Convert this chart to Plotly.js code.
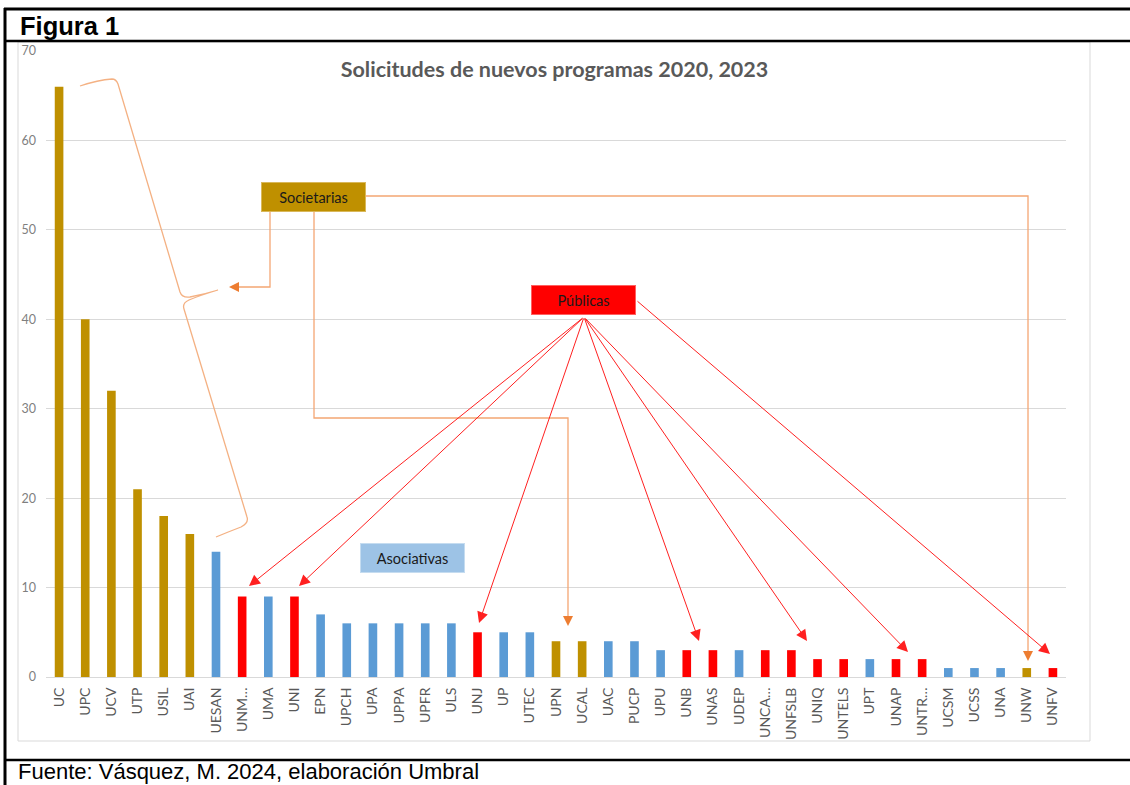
<!DOCTYPE html>
<html>
<head>
<meta charset="utf-8">
<script src="https://cdn.plot.ly/plotly-3.0.1.min.js"></script>
<style>
html,body{margin:0;padding:0;background:#fff;}
#chart{width:1130px;height:785px;}
</style>
</head>
<body>
<div id="chart"></div>
<script>
// ---- Data ----
const categorias = ["UC","UPC","UCV","UTP","USIL","UAI","UESAN","UNM…","UMA","UNI","EPN","UPCH","UPA","UPPA","UPFR","ULS","UNJ","UP","UTEC","UPN","UCAL","UAC","PUCP","UPU","UNB","UNAS","UDEP","UNCA…","UNFSLB","UNIQ","UNTELS","UPT","UNAP","UNTR…","UCSM","UCSS","UNA","UNW","UNFV"];
const valores = [66,40,32,21,18,16,14,9,9,9,7,6,6,6,6,6,5,5,5,4,4,4,4,3,3,3,3,3,3,2,2,2,2,2,1,1,1,1,1];
const tipo = ["S","S","S","S","S","S","A","P","A","P","A","A","A","A","A","A","P","A","A","S","S","A","A","A","P","P","A","P","P","P","P","A","P","P","A","A","A","S","P"];
const colorTipo = {S:"#BF9000", A:"#5B9BD5", P:"#FF0000"};
const yTicks = [0,10,20,30,40,50,60,70];

// ---- Pixel helpers for decorations ----
const PL=46, PR=1066, PT=51, PB=677;
const xp = px => (px-PL)/(PR-PL);
const yp = py => (PB-py)/(PB-PT);
const P = (px,py) => xp(px).toFixed(5)+","+yp(py).toFixed(5);
const poly = pts => "M" + pts.map(p=>P(p[0],p[1])).join(" L") + " Z";
const line = pts => "M" + pts.map(p=>P(p[0],p[1])).join(" L");

const orangeLine = "#F4A673";
const orangeHead = "#ED7D31";

const shapes = [
  // chart area border
  {type:"rect", xref:"paper", yref:"paper", x0:xp(18), x1:xp(1090), y0:yp(42), y1:yp(741), line:{color:"#d9d9d9", width:1}, layer:"below"},
  // document frame
  {type:"line", xref:"paper", yref:"paper", x0:xp(4), x1:xp(1132), y0:yp(9), y1:yp(9), line:{color:"#000", width:3}},
  {type:"line", xref:"paper", yref:"paper", x0:xp(5), x1:xp(5), y0:yp(8), y1:yp(790), line:{color:"#000", width:3}},
  {type:"line", xref:"paper", yref:"paper", x0:xp(4), x1:xp(1132), y0:yp(41), y1:yp(41), line:{color:"#000", width:2.5}},
  {type:"line", xref:"paper", yref:"paper", x0:xp(4), x1:xp(1132), y0:yp(760), y1:yp(760), line:{color:"#000", width:2.5}},
  // brace
  {type:"path", xref:"paper", yref:"paper", line:{color:"#F4B183", width:1.3},
   path:`M${P(80,86)} Q${P(98,80)} ${P(112,79)} Q${P(116,79)} ${P(118,84)} L${P(180,292)} Q${P(182,298)} ${P(190,297)} Q${P(205,294)} ${P(218,290)} Q${P(198,296)} ${P(189,300)} Q${P(182,303)} ${P(184,309)} L${P(247,517)} Q${P(249,523)} ${P(241,527)} Q${P(228,532)} ${P(216,537)}`},
  // Societarias connectors
  {type:"path", xref:"paper", yref:"paper", line:{color:orangeLine, width:1.3}, path:line([[270,212],[270,287],[238,287]])},
  {type:"path", xref:"paper", yref:"paper", line:{color:orangeLine, width:1.3}, path:line([[314,212],[314,418],[568,418],[568,617]])},
  {type:"path", xref:"paper", yref:"paper", line:{color:orangeLine, width:1.3}, path:line([[366,196],[1028,196],[1028,652]])},
  {type:"path", xref:"paper", yref:"paper", line:{width:0}, fillcolor:orangeHead, path:poly([[229,287],[239,282],[239,292]])},
  {type:"path", xref:"paper", yref:"paper", line:{width:0}, fillcolor:orangeHead, path:poly([[568,626],[563,616],[573,616]])},
  {type:"path", xref:"paper", yref:"paper", line:{width:0}, fillcolor:orangeHead, path:poly([[1028,661],[1023,651],[1033,651]])}
];

// red arrows from "Públicas"
const redArrows = [
  {tail:[584,317], tip:[249,586]},
  {tail:[584,317], tip:[299,586]},
  {tail:[584,317], tip:[479,623]},
  {tail:[584,317], tip:[699,641]},
  {tail:[584,317], tip:[807,641]},
  {tail:[584,317], tip:[908,652]},
  {tail:[636,300], tip:[1050,654]}
];

const annotations = redArrows.map(a => ({
  xref:"paper", yref:"paper", axref:"paper", ayref:"paper",
  x:xp(a.tip[0]), y:yp(a.tip[1]), ax:xp(a.tail[0]), ay:yp(a.tail[1]),
  text:"", showarrow:true, arrowhead:2, arrowsize:2.2, arrowwidth:1, arrowcolor:"#FF2020", standoff:0, startstandoff:0
}));

const boxFont = {family:"Lato, 'Open Sans', sans-serif", size:14.5, color:"#1a1a1a"};
annotations.push(
  {xref:"paper", yref:"paper", x:xp(313.5), y:yp(197), text:"Societarias", showarrow:false, bgcolor:"#BF9000", bordercolor:"#d9b85a", borderwidth:1, borderpad:0, width:103, height:28, font:boxFont, xanchor:"center", yanchor:"middle"},
  {xref:"paper", yref:"paper", x:xp(583), y:yp(300), text:"Públicas", showarrow:false, bgcolor:"#FF0000", bordercolor:"#ff6060", borderwidth:1, borderpad:0, width:103, height:28, font:boxFont, xanchor:"center", yanchor:"middle"},
  {xref:"paper", yref:"paper", x:xp(412), y:yp(558), text:"Asociativas", showarrow:false, bgcolor:"#9DC3E6", bordercolor:"#c5dcf0", borderwidth:1, borderpad:0, width:103, height:28, font:boxFont, xanchor:"center", yanchor:"middle"},
  {xref:"paper", yref:"paper", x:xp(19), y:yp(26), text:"Figura 1", showarrow:false, xanchor:"left", yanchor:"middle", borderpad:0, font:{family:"'Liberation Sans', Arial, sans-serif", size:25.5, color:"#000", weight:700}},
  {xref:"paper", yref:"paper", x:xp(17), y:yp(785), text:"Fuente: Vásquez, M. 2024, elaboración Umbral", showarrow:false, xanchor:"left", yanchor:"bottom", borderpad:0, font:{family:"'Liberation Sans', Arial, sans-serif", size:22, color:"#000"}}
);

const trace = {
  type:"bar",
  x:categorias,
  y:valores,
  marker:{color:tipo.map(t=>colorTipo[t])},
  hoverinfo:"x+y"
};

const layout = {
  width:1130, height:785,
  margin:{l:PL, r:1130-PR, t:PT, b:785-PB, pad:0},
  paper_bgcolor:"#fff", plot_bgcolor:"#fff",
  showlegend:false,
  bargap:0.67,
  title:{text:"Solicitudes de nuevos programas 2020, 2023", x:xp(554.5), xref:"paper", xanchor:"center", y:1-69/785, yref:"container", yanchor:"middle",
    font:{family:"Lato, 'Open Sans', sans-serif", size:21.5, color:"#595959", weight:700}},
  xaxis:{type:"category", tickangle:-90, showgrid:false, showline:true, linecolor:"#d9d9d9", linewidth:1, ticks:"",
    tickfont:{family:"Lato, 'Open Sans', sans-serif", size:14, color:"#595959"}, ticklabelstandoff:4, fixedrange:true},
  yaxis:{range:[0,70], tickvals:yTicks, showgrid:true, gridcolor:"#d9d9d9", gridwidth:1, zeroline:false, showline:false, ticks:"",
    tickfont:{family:"Lato, 'Open Sans', sans-serif", size:12.5, color:"#7f7f7f"}, ticklabelstandoff:9, fixedrange:true},
  shapes:shapes,
  annotations:annotations
};

Plotly.newPlot("chart", [trace], layout, {displayModeBar:false, staticPlot:true});
</script>
</body>
</html>
